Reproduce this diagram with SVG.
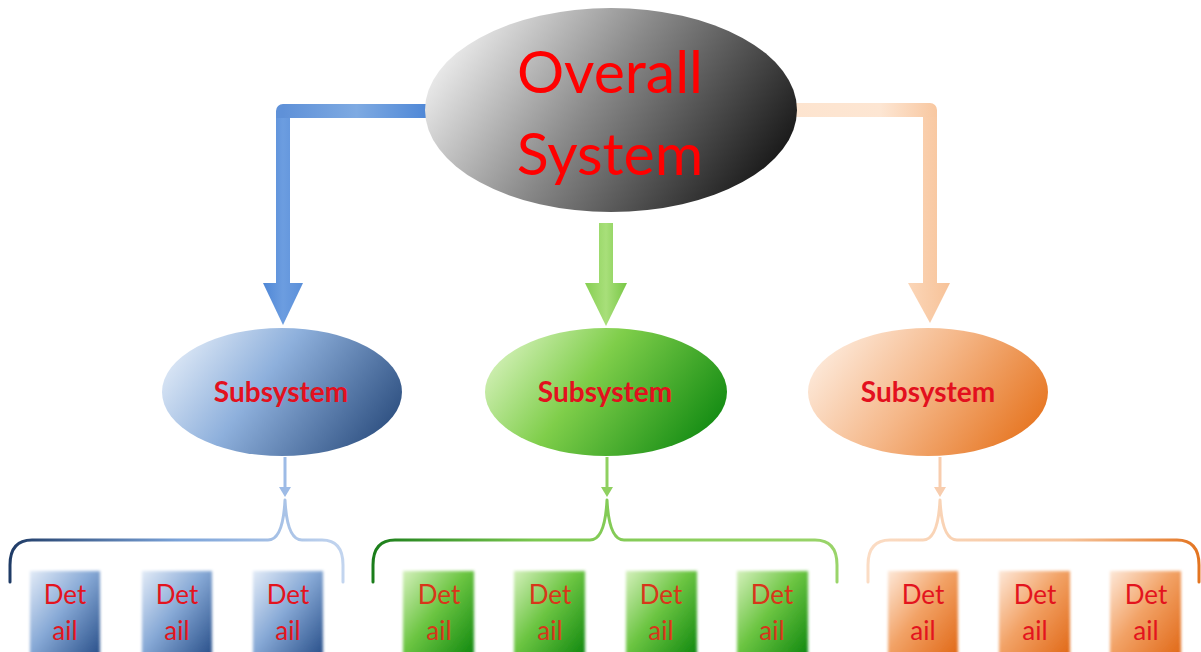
<svg xmlns="http://www.w3.org/2000/svg" width="1201" height="652" viewBox="0 0 1201 652">
<style>
.big{font-family:Lato,"Liberation Sans",sans-serif;font-size:59px;fill:#ff0000;text-anchor:middle}
.sub{font-family:Lato,"Liberation Sans",sans-serif;font-size:28px;font-weight:bold;fill:#e3101e;text-anchor:middle}
.det{font-family:Lato,"Liberation Sans",sans-serif;font-size:26px;fill:#e3141e;text-anchor:middle}
.detg{fill:#d8361a}
.brace{fill:none;stroke-width:3;stroke-linecap:round;stroke-linejoin:round}
.box{filter:url(#soft)}
</style>
<defs>
<filter id="soft" x="-10%" y="-10%" width="120%" height="120%"><feGaussianBlur stdDeviation="1.6"/></filter>
<linearGradient id="gTop" x1="0" y1="0.3" x2="1" y2="0.7">
<stop offset="0" stop-color="#f0f0f0"/><stop offset="0.45" stop-color="#888888"/><stop offset="1" stop-color="#141414"/>
</linearGradient>
<linearGradient id="gBlueE" x1="0" y1="0.3" x2="1" y2="0.7">
<stop offset="0" stop-color="#dde8f6"/><stop offset="0.4" stop-color="#8eb0dc"/><stop offset="1" stop-color="#2d4f80"/>
</linearGradient>
<linearGradient id="gGreenE" x1="0" y1="0.3" x2="1" y2="0.7">
<stop offset="0" stop-color="#d2f0b6"/><stop offset="0.4" stop-color="#7fce4a"/><stop offset="1" stop-color="#118a12"/>
</linearGradient>
<linearGradient id="gOrangeE" x1="0" y1="0.3" x2="1" y2="0.7">
<stop offset="0" stop-color="#fdeadb"/><stop offset="0.45" stop-color="#f5b88a"/><stop offset="1" stop-color="#e6741f"/>
</linearGradient>
<linearGradient id="gBlueB" x1="0" y1="0" x2="1" y2="1">
<stop offset="0" stop-color="#e2ebf7"/><stop offset="0.45" stop-color="#87a9d6"/><stop offset="1" stop-color="#234a85"/>
</linearGradient>
<linearGradient id="gGreenB" x1="0" y1="0" x2="1" y2="1">
<stop offset="0" stop-color="#d4f0bb"/><stop offset="0.45" stop-color="#6cc542"/><stop offset="1" stop-color="#0a840c"/>
</linearGradient>
<linearGradient id="gOrangeB" x1="0" y1="0" x2="1" y2="1">
<stop offset="0" stop-color="#fde8d8"/><stop offset="0.45" stop-color="#f2a266"/><stop offset="1" stop-color="#df6512"/>
</linearGradient>
<linearGradient id="gBlueArrH" x1="283" y1="0" x2="430" y2="0" gradientUnits="userSpaceOnUse">
<stop offset="0" stop-color="#5f91d8"/><stop offset="0.5" stop-color="#7eaae2"/><stop offset="1" stop-color="#4d86d6"/>
</linearGradient>
<linearGradient id="gBlueArrV" x1="263" y1="0" x2="303" y2="0" gradientUnits="userSpaceOnUse">
<stop offset="0" stop-color="#4f87d6"/><stop offset="0.5" stop-color="#6c9de0"/><stop offset="1" stop-color="#5a8fd9"/>
</linearGradient>
<linearGradient id="gGreenArr" x1="585" y1="0" x2="627" y2="0" gradientUnits="userSpaceOnUse">
<stop offset="0" stop-color="#86cf52"/><stop offset="0.5" stop-color="#a8df7a"/><stop offset="1" stop-color="#78c745"/>
</linearGradient>
<linearGradient id="gOrangeArrH" x1="795" y1="0" x2="937" y2="0" gradientUnits="userSpaceOnUse">
<stop offset="0" stop-color="#fde4cf"/><stop offset="0.6" stop-color="#fde6d3"/><stop offset="1" stop-color="#f8c7a0"/>
</linearGradient>
<linearGradient id="gOrangeArrV" x1="908" y1="0" x2="950" y2="0" gradientUnits="userSpaceOnUse">
<stop offset="0" stop-color="#fbd6b8"/><stop offset="1" stop-color="#f7c298"/>
</linearGradient>
<linearGradient id="gBraceB" x1="10" y1="0" x2="344" y2="0" gradientUnits="userSpaceOnUse">
<stop offset="0" stop-color="#1f3b66"/><stop offset="0.5" stop-color="#7aa2d8"/><stop offset="1" stop-color="#c3d5ef"/>
</linearGradient>
<linearGradient id="gBraceG" x1="373" y1="0" x2="838" y2="0" gradientUnits="userSpaceOnUse">
<stop offset="0" stop-color="#1a7d1a"/><stop offset="0.35" stop-color="#7cc850"/><stop offset="1" stop-color="#9ad46a"/>
</linearGradient>
<linearGradient id="gBraceO" x1="868" y1="0" x2="1200" y2="0" gradientUnits="userSpaceOnUse">
<stop offset="0" stop-color="#fbdcc4"/><stop offset="0.6" stop-color="#f6c49c"/><stop offset="1" stop-color="#e37420"/>
</linearGradient>
</defs>

<g id="connectors">
<path d="M430 111 L283 111 L283 287" fill="none" stroke="url(#gBlueArrH)" stroke-width="14" stroke-linejoin="round"/>
<path d="M283 118 L283 287" fill="none" stroke="url(#gBlueArrV)" stroke-width="14"/>
<polygon points="263,283 303,283 283,325" fill="url(#gBlueArrV)"/>
<path d="M606 223 L606 286" fill="none" stroke="url(#gGreenArr)" stroke-width="14"/>
<polygon points="585,283 627,283 606,326" fill="url(#gGreenArr)"/>
<path d="M792 110 L930 110 L930 286" fill="none" stroke="url(#gOrangeArrH)" stroke-width="14" stroke-linejoin="round"/>
<path d="M930 117 L930 286" fill="none" stroke="url(#gOrangeArrV)" stroke-width="14"/>
<polygon points="908,283 950,283 930,323" fill="url(#gOrangeArrV)"/>

<path d="M285 457 L285 490" stroke="#9dbbe6" stroke-width="3"/>
<polygon points="279,487 291,487 285,497" fill="#9dbbe6"/>
<path d="M607 457 L607 490" stroke="#8fd060" stroke-width="3"/>
<polygon points="601,487 613,487 607,497" fill="#8fd060"/>
<path d="M940 457 L940 490" stroke="#f8cdae" stroke-width="3"/>
<polygon points="934,487 946,487 940,497" fill="#f8cdae"/>

<path class="brace" stroke="url(#gBraceB)" d="M10 582 L10 565 Q10 540 32 540 L268 540 Q283 540 285 500 Q287 540 302 540 L322 540 Q343 540 343 565 L343 582"/>
<path class="brace" stroke="url(#gBraceG)" d="M373 582 L373 565 Q373 540 395 540 L590 540 Q605 540 607 500 Q609 540 624 540 L815 540 Q837 540 837 565 L837 582"/>
<path class="brace" stroke="url(#gBraceO)" d="M868 582 L868 565 Q868 540 890 540 L923 540 Q938 540 940 500 Q942 540 957 540 L1177 540 Q1199 540 1199 565 L1199 582"/>
</g>

<g id="overall">
<ellipse cx="611" cy="110" rx="186" ry="102" fill="url(#gTop)"/>
<text class="big" x="610" y="93">Overall</text>
<text class="big" x="610" y="175">System</text>
</g>

<g id="sub-blue">
<ellipse cx="282" cy="392" rx="120" ry="64" fill="url(#gBlueE)"/>
<text class="sub" x="281" y="402">Subsystem</text>
</g>
<g id="sub-green">
<ellipse cx="606" cy="392" rx="121" ry="64" fill="url(#gGreenE)"/>
<text class="sub" x="605" y="402">Subsystem</text>
</g>
<g id="sub-orange">
<ellipse cx="928" cy="392" rx="120" ry="64" fill="url(#gOrangeE)"/>
<text class="sub" x="928" y="402">Subsystem</text>
</g>

<g id="detail-b1"><rect class="box" x="30" y="571" width="70" height="90" fill="url(#gBlueB)"/><text class="det" x="65" y="604">Det</text><text class="det" x="65" y="640">ail</text></g>
<g id="detail-b2"><rect class="box" x="142" y="571" width="70" height="90" fill="url(#gBlueB)"/><text class="det" x="177" y="604">Det</text><text class="det" x="177" y="640">ail</text></g>
<g id="detail-b3"><rect class="box" x="253" y="571" width="70" height="90" fill="url(#gBlueB)"/><text class="det" x="288" y="604">Det</text><text class="det" x="288" y="640">ail</text></g>

<g id="detail-g1"><rect class="box" x="403" y="571" width="71" height="90" fill="url(#gGreenB)"/><text class="det detg" x="439" y="604">Det</text><text class="det detg" x="439" y="640">ail</text></g>
<g id="detail-g2"><rect class="box" x="514" y="571" width="71" height="90" fill="url(#gGreenB)"/><text class="det detg" x="550" y="604">Det</text><text class="det detg" x="550" y="640">ail</text></g>
<g id="detail-g3"><rect class="box" x="626" y="571" width="71" height="90" fill="url(#gGreenB)"/><text class="det detg" x="661" y="604">Det</text><text class="det detg" x="661" y="640">ail</text></g>
<g id="detail-g4"><rect class="box" x="737" y="571" width="71" height="90" fill="url(#gGreenB)"/><text class="det detg" x="772" y="604">Det</text><text class="det detg" x="772" y="640">ail</text></g>

<g id="detail-o1"><rect class="box" x="888" y="571" width="70" height="90" fill="url(#gOrangeB)"/><text class="det" x="923" y="604">Det</text><text class="det" x="923" y="640">ail</text></g>
<g id="detail-o2"><rect class="box" x="999" y="571" width="71" height="90" fill="url(#gOrangeB)"/><text class="det" x="1035" y="604">Det</text><text class="det" x="1035" y="640">ail</text></g>
<g id="detail-o3"><rect class="box" x="1110" y="571" width="71" height="90" fill="url(#gOrangeB)"/><text class="det" x="1146" y="604">Det</text><text class="det" x="1146" y="640">ail</text></g>
</svg>
